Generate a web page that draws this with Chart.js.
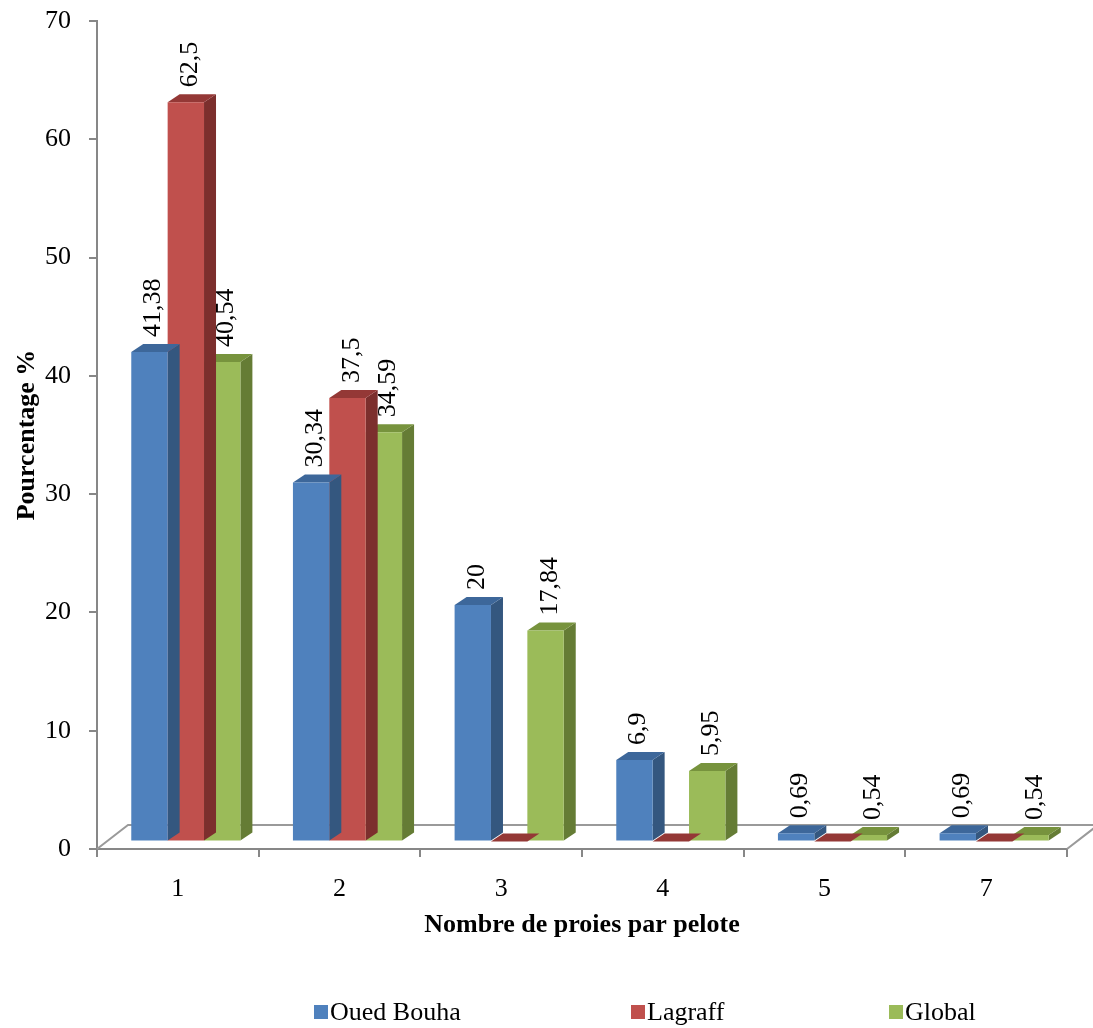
<!DOCTYPE html>
<html>
<head>
<meta charset="utf-8">
<script src="https://cdn.jsdelivr.net/npm/chart.js@4.4.1/dist/chart.umd.min.js"></script>
<style>
  body { margin: 0; background: #fff; }
  #wrap { position: relative; width: 1093px; height: 1028px; }
  #legend { position: absolute; top: 997px; left: 0; width: 1093px; height: 30px;
            font-family: "Liberation Serif", "Times New Roman", serif; font-size: 26px; color: #000; }
  .item { position: absolute; top: 0; display: flex; align-items: center; height: 30px; white-space: nowrap; }
  .box { width: 14px; height: 14px; margin-right: 2px; }
</style>
</head>
<body>
<div id="wrap">
  <canvas id="chart" width="1093" height="1028"></canvas>
  <div id="legend"></div>
</div>
<script>
// ========================
// DATA
// ========================

const categories = ['1', '2', '3', '4', '5', '7'];
const seriesNames = ['Oued Bouha', 'Lagraff', 'Global'];
const ouedBouha = [41.38, 30.34, 20, 6.9, 0.69, 0.69];
const lagraff = [62.5, 37.5, 0, 0, 0, 0];
const globalValues = [40.54, 34.59, 17.84, 5.95, 0.54, 0.54];
const yTicks = [0, 10, 20, 30, 40, 50, 60, 70];

// front / top / side colours per series
const faceColors = [
  { front: '#4F81BD', top: '#3D679A', side: '#34577F' },
  { front: '#C0504D', top: '#943836', side: '#7C2F2D' },
  { front: '#9BBB59', top: '#77933D', side: '#657C35' }
];

const FONT = '"Liberation Serif", "Times New Roman", serif';
const AXIS_GRAY = '#878787';

// 3D offsets: bars sit a little behind the axis, with their own depth
const SHIFT_X = 8, SHIFT_Y = -7.5;
const DEPTH_X = 12, DEPTH_Y = -8;
const FLOOR_X = 31, FLOOR_Y = -24;

function fmt(v) {
  return String(v).replace('.', ',');
}

// ========================
// 3D PLUGIN
// ========================

const bars3d = {
  id: 'bars3d',
  beforeDatasetsDraw(chart) {
    const { ctx, chartArea: a } = chart;
    // floor outline
    ctx.save();
    ctx.strokeStyle = '#9a9a9a';
    ctx.lineWidth = 2;
    ctx.beginPath();
    ctx.moveTo(a.left, a.bottom);
    ctx.lineTo(a.left + FLOOR_X, a.bottom + FLOOR_Y);
    ctx.lineTo(a.right + FLOOR_X, a.bottom + FLOOR_Y);
    ctx.lineTo(a.right, a.bottom);
    ctx.stroke();
    ctx.restore();
    ctx.save();
    ctx.translate(SHIFT_X, SHIFT_Y);
  },
  beforeDatasetDraw(chart, args) {
    const ctx = chart.ctx;
    const c = faceColors[args.index];
    chart.getDatasetMeta(args.index).data.forEach(bar => {
      const { x, y, base, width } = bar.getProps(['x', 'y', 'base', 'width'], true);
      const x0 = x - width / 2, x1 = x + width / 2;
      // side face
      ctx.fillStyle = c.side;
      ctx.beginPath();
      ctx.moveTo(x1, y);
      ctx.lineTo(x1 + DEPTH_X, y + DEPTH_Y);
      ctx.lineTo(x1 + DEPTH_X, base + DEPTH_Y);
      ctx.lineTo(x1, base);
      ctx.closePath();
      ctx.fill();
      // top face
      ctx.fillStyle = c.top;
      ctx.beginPath();
      ctx.moveTo(x0, y);
      ctx.lineTo(x0 + DEPTH_X, y + DEPTH_Y);
      ctx.lineTo(x1 + DEPTH_X, y + DEPTH_Y);
      ctx.lineTo(x1, y);
      ctx.closePath();
      ctx.fill();
    });
  },
  afterDatasetsDraw(chart) {
    const ctx = chart.ctx;
    // value labels, rotated
    ctx.fillStyle = '#000';
    ctx.font = '26px ' + FONT;
    ctx.textAlign = 'left';
    ctx.textBaseline = 'alphabetic';
    chart.data.datasets.forEach((ds, i) => {
      chart.getDatasetMeta(i).data.forEach((bar, j) => {
        const v = ds.data[j];
        if (!v) return;
        const { x, y } = bar.getProps(['x', 'y'], true);
        ctx.save();
        ctx.translate(x + 11, y - 15);
        ctx.rotate(-Math.PI / 2);
        ctx.fillText(fmt(v), 0, 0);
        ctx.restore();
      });
    });
    ctx.restore();
  }
};

// ========================
// CHART
// ========================

const seriesValues = [ouedBouha, lagraff, globalValues];

const chart = new Chart(document.getElementById('chart'), {
  type: 'bar',
  data: {
    labels: categories,
    datasets: seriesNames.map((name, i) => ({
      label: name,
      data: seriesValues[i],
      backgroundColor: faceColors[i].front,
      borderWidth: 0,
      categoryPercentage: 0.675,
      barPercentage: 1
    }))
  },
  options: {
    responsive: false,
    devicePixelRatio: 1,
    animation: false,
    layout: { padding: { left: 0, right: 26, top: 21, bottom: 79 } },
    plugins: {
      legend: { display: false },
      tooltip: { enabled: false }
    },
    scales: {
      x: {
        border: { color: AXIS_GRAY, width: 2 },
        grid: { drawOnChartArea: false, drawTicks: true, tickLength: 8, color: AXIS_GRAY, lineWidth: 2 },
        ticks: { color: '#000', font: { family: FONT, size: 26 }, padding: 17, maxRotation: 0 },
        title: {
          display: true,
          text: 'Nombre de proies par pelote',
          color: '#000',
          font: { family: FONT, size: 26, weight: 'bold' },
          padding: { top: 0, bottom: 8 }
        },
        afterFit(scale) { scale.height = 100; }
      },
      y: {
        min: 0,
        max: 70,
        afterBuildTicks(scale) { scale.ticks = yTicks.map(v => ({ value: v })); },
        border: { color: AXIS_GRAY, width: 2 },
        grid: { drawOnChartArea: false, drawTicks: true, tickLength: 8, color: AXIS_GRAY, lineWidth: 2 },
        ticks: { color: '#000', font: { family: FONT, size: 26 }, padding: 18 },
        title: {
          display: true,
          text: 'Pourcentage %',
          color: '#000',
          font: { family: FONT, size: 26, weight: 'bold' },
          padding: { top: 12, bottom: 0 }
        },
        afterFit(scale) {
          scale.width = 97;
          scale.paddingTop = 0;
          scale.paddingBottom = 0;
        }
      }
    }
  },
  plugins: [bars3d]
});

// ========================
// LEGEND (html)
// ========================

const legendLeft = [314, 631, 889];
const legend = document.getElementById('legend');
seriesNames.forEach((name, i) => {
  const item = document.createElement('div');
  item.className = 'item';
  item.style.left = legendLeft[i] + 'px';
  const box = document.createElement('span');
  box.className = 'box';
  box.style.background = faceColors[i].front;
  const txt = document.createElement('span');
  txt.textContent = name;
  item.appendChild(box);
  item.appendChild(txt);
  legend.appendChild(item);
});
</script>
</body>
</html>
